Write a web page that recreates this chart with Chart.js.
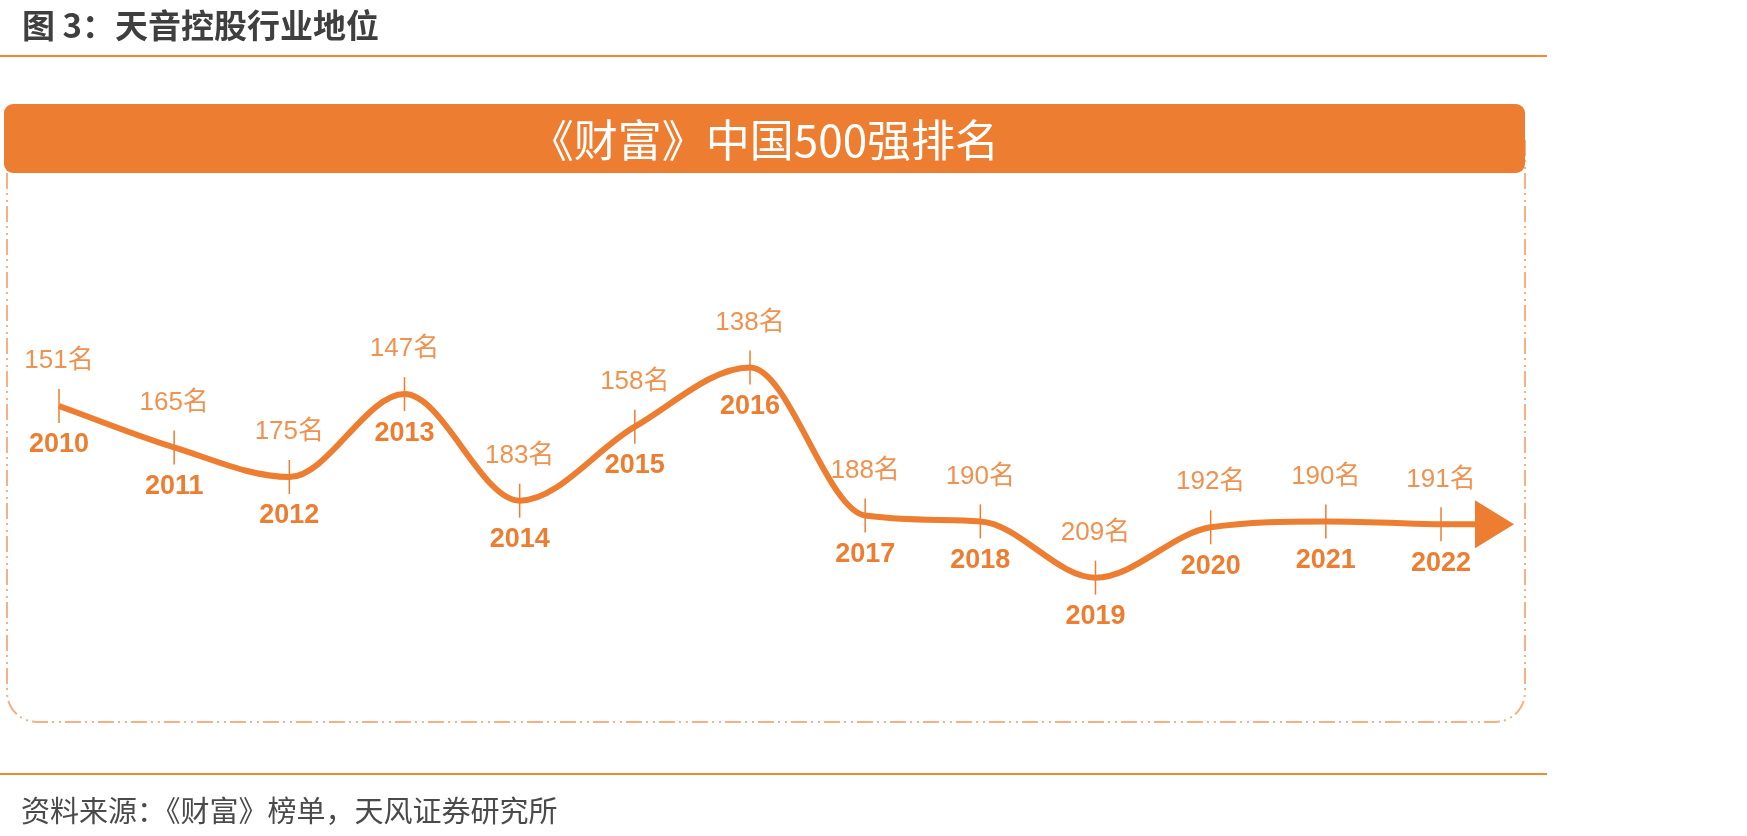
<!DOCTYPE html>
<html lang="zh">
<head>
<meta charset="utf-8">
<title>天音控股行业地位</title>
<script src="https://cdn.jsdelivr.net/npm/chart.js@4"></script>
<style>
    body { margin: 0; background: #fff; }
    #page { position: relative; width: 1747px; height: 836px; overflow: hidden; }
    #myChart { position: absolute; left: 0; top: 0; }
    .fig-title {
        position: absolute; left: 22px; top: 0px;
        font: bold 33px "Noto Sans CJK SC", sans-serif; color: #3f3f3f;
    }
    .rule { position: absolute; left: 0; width: 1547px; height: 2px; background: #F08A2E; }
    .banner {
        position: absolute; left: 4px; top: 104px; width: 1521px; height: 69px;
        background: #ED7D31; border-radius: 9px;
        color: #fff; font: 44px "Noto Sans CJK SC", sans-serif;
        line-height: 69px; text-align: center; text-indent: 0px;
    }
    .source {
        position: absolute; left: 21px; top: 788px;
        font: 29px "Noto Sans CJK SC", sans-serif; color: #4a4a4a;
    }
</style>
</head>
<body>
<div id="page">
    <canvas id="myChart" width="1747" height="836"></canvas>
    <div class="fig-title">图 3：天音控股行业地位</div>
    <div class="rule" style="top:55px"></div>
    <div class="banner">《财富》中国500强排名</div>
    <div class="rule" style="top:773px"></div>
    <div class="source">资料来源：《财富》榜单，天风证券研究所</div>
</div>
<script>
"use strict";

// 年份与排名
const years = ['2010', '2011', '2012', '2013', '2014', '2015', '2016', '2017', '2018', '2019', '2020', '2021', '2022'];
const ranks = [151, 165, 175, 147, 183, 158, 138, 188, 190, 209, 192, 190, 191];
const rankSuffix = '名';

const orange = '#ED7D31';
const numFont = '"Liberation Sans", "Noto Sans CJK SC", sans-serif';

// 虚线圆角边框
const framePlugin = {
    id: 'frame',
    beforeDraw(chart) {
        const ctx = chart.ctx;
        const x = 7, y = 140, w = 1518, h = 582, r = 30;
        ctx.save();
        ctx.strokeStyle = '#F4B183';
        ctx.lineWidth = 2;
        ctx.setLineDash([16, 4, 2, 5, 2, 4]);
        ctx.beginPath();
        ctx.moveTo(x, y);
        ctx.lineTo(x, y + h - r);
        ctx.arcTo(x, y + h, x + r, y + h, r);
        ctx.lineTo(x + w - r, y + h);
        ctx.arcTo(x + w, y + h, x + w, y + h - r, r);
        ctx.lineTo(x + w, y);
        ctx.stroke();
        ctx.restore();
    }
};

// 刻度线、标签和箭头
const markPlugin = {
    id: 'marks',
    afterDatasetsDraw(chart) {
        const ctx = chart.ctx;
        const pts = chart.getDatasetMeta(0).data;
        ctx.save();

        // 箭头
        const last = pts[pts.length - 1];
        ctx.strokeStyle = orange;
        ctx.lineWidth = 6;
        ctx.beginPath();
        ctx.moveTo(last.x, last.y);
        ctx.lineTo(last.x + 36, last.y);
        ctx.stroke();
        ctx.fillStyle = orange;
        ctx.beginPath();
        ctx.moveTo(last.x + 34, last.y - 24);
        ctx.lineTo(last.x + 73, last.y);
        ctx.lineTo(last.x + 34, last.y + 24);
        ctx.closePath();
        ctx.fill();

        pts.forEach((p, i) => {
            ctx.strokeStyle = orange;
            ctx.lineWidth = 1.5;
            ctx.beginPath();
            ctx.moveTo(p.x, p.y - 17);
            ctx.lineTo(p.x, p.y + 17);
            ctx.stroke();

            ctx.textAlign = 'center';
            ctx.textBaseline = 'middle';
            ctx.fillStyle = '#F0924F';
            ctx.font = '26px ' + numFont;
            ctx.fillText(ranks[i] + rankSuffix, p.x, p.y - 45);

            ctx.fillStyle = orange;
            ctx.font = 'bold 27px ' + numFont;
            ctx.fillText(years[i], p.x, p.y + 39);
        });
        ctx.restore();
    }
};

const ctx = document.getElementById('myChart');

new Chart(ctx, {
    type: 'line',
    data: {
        labels: years,
        datasets: [{
            data: ranks,
            borderColor: orange,
            borderWidth: 6,
            cubicInterpolationMode: 'monotone',
            pointRadius: 0,
            clip: false
        }]
    },
    options: {
        responsive: false,
        animation: false,
        layout: { padding: { left: 59, right: 306, top: 255, bottom: 137 } },
        plugins: {
            legend: { display: false },
            tooltip: { enabled: false }
        },
        scales: {
            x: { display: false, offset: false },
            y: { display: false, reverse: true, min: 100, max: 250 }
        }
    },
    plugins: [framePlugin, markPlugin]
});
</script>
</body>
</html>
